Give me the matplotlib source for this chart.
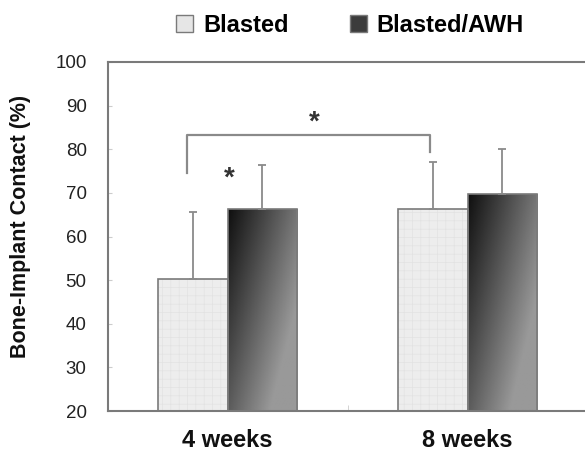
import matplotlib
matplotlib.use("Agg")
import matplotlib.pyplot as plt
import numpy as np
from matplotlib.patches import Patch

# dados
grupos = ["4 weeks", "8 weeks"]
series = ["Blasted", "Blasted/AWH"]
media_blasted = [50.3, 66.4]
media_awh = [66.2, 69.8]
dp_blasted = [15.3, 10.7]
dp_awh = [10.3, 10.2]

plt.rcParams["font.family"] = ["Liberation Sans", "DejaVu Sans"]
plt.rcParams["hatch.linewidth"] = 0.5

cinza = "#7a7a7a"

fig = plt.figure(figsize=(5.85, 4.55), dpi=100)
ax = fig.add_axes([107.5 / 585, 44 / 455, 480 / 585, 349 / 455])

x = np.arange(len(grupos))
larg = 0.29

# textura pontilhada clara + contorno
ax.bar(x - larg / 2, media_blasted, larg, color="#ededed",
       edgecolor="#e2e2e2", linewidth=0, hatch="++", zorder=2)
ax.bar(x - larg / 2, media_blasted, larg, color="none",
       edgecolor=cinza, linewidth=1.2, zorder=3)
b2 = ax.bar(x + larg / 2, media_awh, larg, color="none",
            edgecolor=cinza, linewidth=1.2, zorder=3)

# degradê nas barras escuras
nx, ny = 60, 200
xx, yy = np.meshgrid(np.linspace(0, 1, nx), np.linspace(0, 1, ny))
for r in b2:
    x0, w = r.get_x(), r.get_width()
    h = r.get_height()
    img = np.clip(0.06 + 0.40 * xx + 0.30 * yy, 0, 0.6)
    im = ax.imshow(img, cmap="gray", vmin=0, vmax=1, aspect="auto",
                   extent=[x0, x0 + w, 20, h], origin="upper", zorder=2.5)
    im.set_clip_path(r)

ax.errorbar(x - larg / 2, media_blasted, yerr=[np.zeros(2), dp_blasted], fmt="none",
            ecolor="#8a8a8a", elinewidth=1.3, capsize=3, capthick=1.3, zorder=4)
ax.errorbar(x + larg / 2, media_awh, yerr=[np.zeros(2), dp_awh], fmt="none",
            ecolor="#8a8a8a", elinewidth=1.3, capsize=3, capthick=1.3, zorder=4)

# colchete de significância
ax.plot([-0.167, -0.167, 0.845, 0.845], [74.6, 83.3, 83.3, 79.4],
        color="#8a8a8a", lw=1.6, zorder=4)
ax.text(0.36, 86.0, "*", ha="center", va="center", fontsize=20,
        fontweight="bold", color="#333333")
ax.text(0.008, 73.3, "*", ha="center", va="center", fontsize=20,
        fontweight="bold", color="#333333")

ax.set_xlim(-0.5, 1.5)
ax.set_ylim(20, 100)
ax.set_yticks(range(20, 101, 10))
ax.set_xticks(x)
ax.set_xticklabels(grupos, fontsize=17, fontweight="bold", color="#111111")
ax.set_xticks([0.5], minor=True)
ax.tick_params(axis="x", which="major", length=0, pad=13)
ax.tick_params(axis="x", which="minor", direction="in", length=4, color="#cccccc")
ax.tick_params(axis="y", direction="in", length=3, color="#cccccc",
               labelsize=13.5, labelcolor="#222222", pad=15)
ax.set_ylabel("Bone-Implant Contact (%)", fontsize=15.5, fontweight="bold",
              color="#111111")
ax.yaxis.set_label_coords(-(107.5 - 31) / 480, 0.53)

for s in ax.spines.values():
    s.set_color(cinza)
    s.set_linewidth(1.5)

handles = [Patch(facecolor="#e6e6e6", edgecolor=cinza, linewidth=1),
           Patch(facecolor="#3c3c3c", edgecolor=cinza, linewidth=1)]
fig.legend(handles, series, loc="center", bbox_to_anchor=(350 / 585, 1 - 25 / 455),
           ncol=2, frameon=False, prop={"size": 17, "weight": "bold"},
           handlelength=0.72, handleheight=0.72, handletextpad=0.4,
           columnspacing=2.6, borderpad=0)

fig.savefig("out.png", dpi=100)
